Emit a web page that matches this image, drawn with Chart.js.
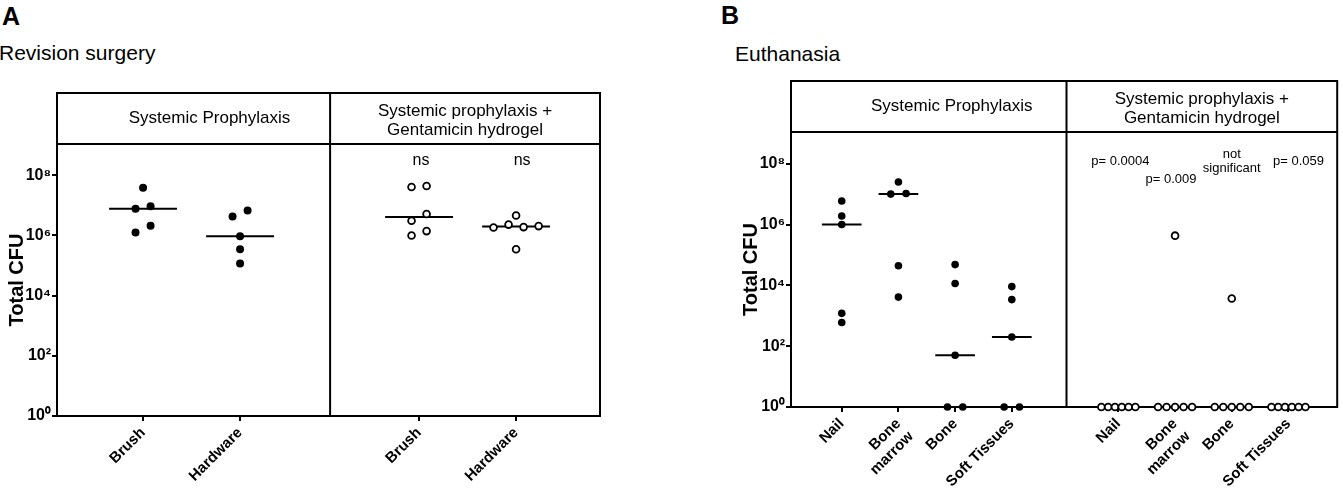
<!DOCTYPE html>
<html lang="en">
<head>
<meta charset="UTF-8">
<title>Total CFU - revision surgery and euthanasia</title>
<script src="https://cdn.jsdelivr.net/npm/chart.js@4"></script>
<style>
  body { margin: 0; background: #fff; font-family: 'Liberation Sans', Arial, sans-serif; width: 1343px; height: 488px; overflow: hidden; position: relative; }
  .big { position: absolute; font-weight: bold; font-size: 25px; line-height: 25px; }
  .sub { position: absolute; font-size: 21px; line-height: 21px; white-space: nowrap; }
  .panel { position: absolute; top: 0; height: 488px; }
</style>
</head>
<body>
<div class="big" style="left:2px;top:4px">A</div>
<div class="sub" style="left:-1px;top:42px">Revision surgery</div>
<div class="big" style="left:721px;top:3px">B</div>
<div class="sub" style="left:735px;top:43px">Euthanasia</div>
<div class="panel" style="left:0;width:606px"><canvas id="chartA"></canvas></div>
<div class="panel" style="left:734px;width:609px"><canvas id="chartB"></canvas></div>

<script>
// ---- data (CFU per sample) ----
// A: revision surgery
const catsA = ['Brush', 'Hardware', 'Brush', 'Hardware'];
const sysBrushA = [3.9e7, 7.8e6, 9.3e6, 1.26e6, 2.1e6];
const sysHardwareA = [4.3e6, 6.8e6, 9.5e5, 3.5e5, 1.17e5];
const gentaBrushA = [4.1e7, 4.4e7, 3.1e6, 5.2e6, 1.0e6, 1.4e6];
const gentaHardwareA = [4.6e6, 1.85e6, 2.3e6, 1.9e6, 2.05e6, 3.5e5];
const signifA = ['ns', 'ns'];

// B: euthanasia
const catsB = ['Nail', ['Bone', 'marrow'], 'Bone', 'Soft Tissues', 'Nail', ['Bone', 'marrow'], 'Bone', 'Soft Tissues'];
const sysNailB = [5.9e6, 1.9e6, 1.0e6, 1.2e3, 6.0e2];
const sysMarrowB = [2.5e7, 1.0e7, 1.05e7, 4.4e4, 4.1e3];
const sysBoneB = [4.8e4, 1.15e4, 50, 1, 1];
const sysSoftB = [9.1e3, 3.4e3, 200, 1, 1];
const gentaNailB = [1, 1, 1, 1, 1, 1];
const gentaMarrowB = [4.3e5, 1, 1, 1, 1, 1];
const gentaBoneB = [3.7e3, 1, 1, 1, 1, 1];
const gentaSoftB = [1, 1, 1, 1, 1, 1];
const signifB = ['p= 0.0004', 'p= 0.009', ['not', 'significant'], 'p= 0.059'];

const headerLeft = ['Systemic Prophylaxis'];
const headerRight = ['Systemic prophylaxis +', 'Gentamicin hydrogel'];
const yTickValues = [1, 1e2, 1e4, 1e6, 1e8];
const yTickLabels = ['10⁰', '10²', '10⁴', '10⁶', '10⁸'];
const yTitle = 'Total CFU';

const FONT = "'Liberation Sans', Arial, sans-serif";

// prism-like spreading: points that sit close together (in log units) go side by side
function spread(values, cx, step, maxSpan) {
  const logs = values.map(v => Math.log10(v));
  const order = logs.map((l, i) => i).sort((a, b) => logs[b] - logs[a]);
  const bins = [];
  order.forEach(i => {
    const b = bins[bins.length - 1];
    if (b && logs[b[0]] - logs[i] < 0.26) b.push(i); else bins.push([i]);
  });
  const pts = [];
  bins.forEach(b => {
    b.sort((p, q) => p - q);
    const s = b.length > 1 ? Math.min(step, maxSpan / (b.length - 1)) : 0;
    b.forEach((i, k) => pts.push({ x: cx + (k - (b.length - 1) / 2) * s, y: values[i] }));
  });
  return pts;
}

function median(values) {
  const s = [...values].sort((a, b) => a - b);
  const n = s.length;
  return n % 2 ? s[(n - 1) / 2] : (s[n / 2 - 1] + s[n / 2]) / 2;
}

function drawLines(ctx, lines, x, cy, lh) {
  const y0 = cy - (lines.length - 1) * lh / 2;
  lines.forEach((t, i) => ctx.fillText(t, x, y0 + i * lh));
}

const frame = {
  id: 'frame',
  beforeDatasetsDraw(chart, args, o) {
    const { ctx, chartArea: a, scales: { x } } = chart;
    const top = a.top - o.headerH;
    const xd = x.getPixelForValue(o.divider);
    ctx.save();
    ctx.strokeStyle = '#000';
    ctx.lineWidth = 2;
    ctx.strokeRect(a.left, top, a.right - a.left, a.bottom - top);
    ctx.beginPath();
    ctx.moveTo(a.left, a.top); ctx.lineTo(a.right, a.top);
    ctx.moveTo(xd, top); ctx.lineTo(xd, a.bottom);
    ctx.stroke();

    ctx.fillStyle = '#000';
    ctx.textAlign = 'center';
    ctx.textBaseline = 'middle';
    ctx.font = '17px ' + FONT;
    const hy = a.top - o.headerH / 2;
    drawLines(ctx, headerLeft, (a.left + xd) / 2 + o.headerDx, hy, 19);
    drawLines(ctx, headerRight, (xd + a.right) / 2, hy + 2, 19);

    ctx.font = o.noteSize + 'px ' + FONT;
    o.notes.forEach((t, i) => {
      const px = x.getPixelForValue(o.notePos[i]) + o.noteDx[i];
      drawLines(ctx, [].concat(t), px, a.top + o.noteDy[i], 14);
    });
    ctx.restore();
  }
};

function makePanel(id, p) {
  const datasets = [];
  p.groups.forEach((vals, gi) => {
    const open = gi >= p.groups.length / 2;
    const cx = p.pos[gi];
    datasets.push({
      type: 'scatter',
      data: spread(vals, cx, p.step, p.maxSpan),
      pointRadius: open ? 3.4 : p.r,
      pointBorderWidth: open ? 1.8 : 0,
      pointBackgroundColor: open ? '#fff' : '#000',
      pointBorderColor: '#000',
      clip: false,
      order: 0
    });
    const m = median(vals);
    datasets.push({
      type: 'line',
      data: [{ x: cx - 0.35, y: m }, { x: cx + 0.35, y: m }],
      borderColor: '#000',
      borderWidth: 2,
      pointRadius: 0,
      clip: false,
      order: 1
    });
  });

  return new Chart(document.getElementById(id), {
    type: 'scatter',
    data: { datasets },
    plugins: [frame],
    options: {
      responsive: true,
      maintainAspectRatio: false,
      animation: false,
      events: [],
      layout: { padding: { top: p.top, right: p.right, left: 0, bottom: 0 } },
      plugins: {
        legend: { display: false },
        tooltip: { enabled: false },
        frame: {
          headerH: 51, divider: p.divider, headerDx: p.headerDx,
          notes: p.notes, notePos: p.notePos, noteDx: p.noteDx, noteDy: p.noteDy, noteSize: p.noteSize
        }
      },
      scales: {
        x: {
          type: 'linear',
          min: p.xMin,
          max: p.xMax,
          afterBuildTicks: s => { s.ticks = p.pos.map(v => ({ value: v })); },
          afterFit: s => { s.height = p.xAxisH; },
          ticks: {
            autoSkip: false, minRotation: 45, maxRotation: 45, padding: 3, color: '#000',
            font: { family: FONT, size: 15, weight: 'bold' },
            callback: (v, i) => p.cats[i]
          },
          grid: { drawOnChartArea: false, tickLength: 5, color: '#000', lineWidth: 2 },
          border: { color: '#000', width: 2 }
        },
        y: {
          type: 'logarithmic',
          min: 1,
          max: 1.1e9,
          afterBuildTicks: s => { s.ticks = yTickValues.map(v => ({ value: v })); },
          afterFit: s => { s.width = 57; },
          ticks: {
            padding: 1, color: '#000',
            font: { family: FONT, size: 16, weight: 'bold' },
            callback: (v, i) => yTickLabels[i]
          },
          grid: { drawOnChartArea: false, tickLength: 5, color: '#000', lineWidth: 2 },
          border: { color: '#000', width: 2 },
          title: {
            display: true, text: yTitle, color: '#000',
            font: { family: FONT, size: 20, weight: 'bold' },
            padding: { top: 5, bottom: 0 }
          }
        }
      }
    }
  });
}

makePanel('chartA', {
  groups: [sysBrushA, sysHardwareA, gentaBrushA, gentaHardwareA],
  cats: catsA,
  pos: [1, 2, 3.845, 4.845],
  xMin: 0.113, xMax: 5.71, divider: 2.928,
  step: 0.155, maxSpan: 0.6, r: 4,
  top: 144, right: 6, xAxisH: 72, headerDx: 16,
  notes: signifA, notePos: [3.845, 4.845], noteDx: [2, 6], noteDy: [17, 17], noteSize: 16
});

makePanel('chartB', {
  groups: [sysNailB, sysMarrowB, sysBoneB, sysSoftB, gentaNailB, gentaMarrowB, gentaBoneB, gentaSoftB],
  cats: catsB,
  pos: [1, 2, 3, 4, 5.88, 6.88, 7.88, 8.88],
  xMin: 0.105, xMax: 9.74, divider: 4.965,
  step: 0.27, maxSpan: 0.6, r: 3.8,
  top: 132, right: 3, xAxisH: 81, headerDx: 23,
  notes: signifB, notePos: [5.88, 6.88, 7.88, 8.88], noteDx: [2, -4, 0, 10], noteDy: [29, 47, 29, 29], noteSize: 13
});
</script>
</body>
</html>
